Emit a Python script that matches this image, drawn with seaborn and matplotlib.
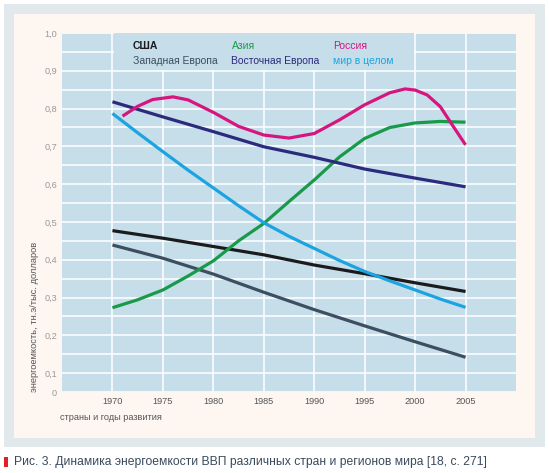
import numpy as np
import pandas as pd
import matplotlib
matplotlib.use('Agg')
import matplotlib.pyplot as plt
from matplotlib.patches import Rectangle
import seaborn as sns

# Data
years_line = [1970, 1975, 1980, 1985, 1990, 1995, 2000, 2005]
usa = [0.477, 0.457, 0.435, 0.413, 0.386, 0.363, 0.339, 0.316]
west_europe = [0.439, 0.404, 0.362, 0.314, 0.268, 0.225, 0.183, 0.142]
east_europe = [0.818, 0.778, 0.739, 0.699, 0.671, 0.640, 0.616, 0.593]

years_curve = [1970, 1972.5, 1975, 1977.5, 1980, 1982.5, 1985, 1987.5,
               1990, 1992.5, 1995, 1997.5, 2000, 2002.5, 2005]
asia = [0.273, 0.294, 0.320, 0.357, 0.397, 0.450, 0.496, 0.554,
        0.611, 0.672, 0.721, 0.750, 0.762, 0.766, 0.764]
world = [0.787, 0.736, 0.686, 0.637, 0.590, 0.543, 0.498, 0.462,
         0.430, 0.398, 0.369, 0.344, 0.320, 0.296, 0.274]

years_russia = [1971, 1972.5, 1974, 1976, 1977.5, 1980, 1982.5, 1985, 1987.5,
                1990, 1992.5, 1995, 1997.5, 1999, 2000, 2001.2, 2002.5,
                2003.8, 2005]
russia = [0.780, 0.806, 0.824, 0.831, 0.823, 0.790, 0.753, 0.730, 0.722,
          0.734, 0.770, 0.810, 0.842, 0.852, 0.849, 0.836, 0.805,
          0.752, 0.704]

year_ticks = [1970, 1975, 1980, 1985, 1990, 1995, 2000, 2005]
legend_names = ['США', 'Западная Европа', 'Азия', 'Восточная Европа', 'Россия', 'мир в целом']
colors = {'США': '#1b1b1d', 'Западная Европа': '#3c4e5f', 'Азия': '#199a49',
          'Восточная Европа': '#2c2a7c', 'Россия': '#d7157f', 'мир в целом': '#1ba4e0'}

frames = [
    pd.DataFrame({'year': years_line, 'value': usa, 'series': 'США'}),
    pd.DataFrame({'year': years_line, 'value': west_europe, 'series': 'Западная Европа'}),
    pd.DataFrame({'year': years_curve, 'value': asia, 'series': 'Азия'}),
    pd.DataFrame({'year': years_line, 'value': east_europe, 'series': 'Восточная Европа'}),
    pd.DataFrame({'year': years_russia, 'value': russia, 'series': 'Россия'}),
    pd.DataFrame({'year': years_curve, 'value': world, 'series': 'мир в целом'}),
]
data = pd.concat(frames, ignore_index=True)

sns.set_theme(style='white')
plt.rcParams['font.family'] = ['Liberation Sans', 'DejaVu Sans']

fig = plt.figure(figsize=(5.49, 4.73), dpi=100)
fig.patch.set_facecolor('white')

W, H = 549, 473
# outer frame and cream panel
fig.patches.append(Rectangle((4 / W, 1 - 447 / H), 541 / W, 443 / H,
                             transform=fig.transFigure, facecolor='#e1e9ed',
                             edgecolor='none', zorder=-3))
fig.patches.append(Rectangle((14 / W, 1 - 438 / H), 521 / W, 424 / H,
                             transform=fig.transFigure, facecolor='#fdf6f1',
                             edgecolor='none', zorder=-2))

ax = fig.add_axes([62 / W, 1 - 392 / H, 454 / W, 359 / H])
ax.set_zorder(1)
bg = '#c5deea'
ax.set_facecolor(bg)

sns.lineplot(data=data, x='year', y='value', hue='series', palette=colors,
             hue_order=legend_names, estimator=None, sort=True,
             linewidth=2.3, legend=False, ax=ax, zorder=3)
for line in ax.lines:
    line.set_solid_capstyle('butt')
    line.set_solid_joinstyle('round')

ax.set_xlim(1965, 2010)
ax.set_ylim(0.05, 1.0)
ax.set_xticks(year_ticks)
ax.set_xticklabels([str(y) for y in year_ticks])
yt = np.arange(0.05, 1.0001, 0.05)
ax.set_yticks(yt)
ylabels = []
for i, v in enumerate(yt):
    if i == 0:
        ylabels.append('0')
    elif i % 2 == 1:
        ylabels.append(f'{v:.1f}'.replace('.', ','))
    else:
        ylabels.append('')
ax.set_yticklabels(ylabels)
ax.grid(True, color='white', linewidth=1.1, zorder=1)
ax.set_axisbelow(True)
for s in ax.spines.values():
    s.set_visible(False)
ax.tick_params(axis='x', length=0, pad=3.5, labelsize=6.6, labelcolor='#555555')
ax.tick_params(axis='y', length=0, pad=3.5, labelsize=6.6, labelcolor='#9a9a9a')
ax.set_xlabel('')
ax.set_ylabel('')

# legend box without gridlines
ax.add_patch(Rectangle((1970.15, 0.902), 29.7, 0.098, facecolor=bg,
                       edgecolor='none', zorder=2))
leg_x = [1972.0, 1981.8, 1991.9]
leg_y = [0.966, 0.927]
for i, name in enumerate(legend_names):
    col, row = i // 2, i % 2
    ax.text(leg_x[col], leg_y[row], name, color=colors[name], fontsize=7.5,
            fontweight='bold' if name == 'США' else 'normal',
            va='center', ha='left', zorder=4)

fig.text(35 / W, 1 - 392 / H, 'энергоемкость, тн.э/тыс. долларов', rotation=90,
         ha='center', va='bottom', fontsize=6.7, color='#555555')
fig.text(60 / W, 1 - 417 / H, 'страны и годы развития', ha='left', va='center',
         fontsize=6.6, color='#555555')

fig.patches.append(Rectangle((4 / W, 1 - 467 / H), 3.5 / W, 10 / H,
                             transform=fig.transFigure, facecolor='#e31e24',
                             edgecolor='none'))
fig.text(14 / W, 1 - 462 / H,
         'Рис. 3. Динамика энергоемкости ВВП различных стран и регионов мира [18, с. 271]',
         ha='left', va='center', fontsize=8.75, color='#3a4a5c')

fig.savefig('out.png', dpi=100)
